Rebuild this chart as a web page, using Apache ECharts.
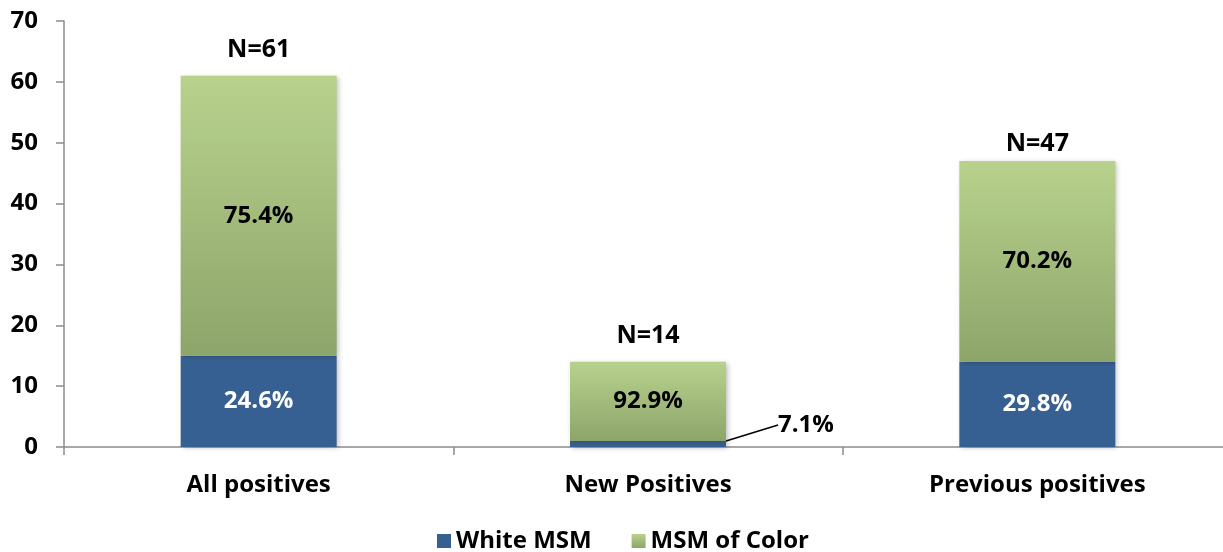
<!DOCTYPE html>
<html>
<head>
<meta charset="utf-8">
<script src="https://cdn.jsdelivr.net/npm/echarts@6/dist/echarts.min.js"></script>
<style>
html,body{margin:0;padding:0;background:#fff;}
#chart{width:1223px;height:552px;}
</style>
</head>
<body>
<div id="chart"></div>
<script>
const categories = ['All positives', 'New Positives', 'Previous positives'];
const whiteMSM = [15, 1, 14];
const msmOfColor = [46, 13, 33];
const yTicks = [0, 10, 20, 30, 40, 50, 60, 70];

const FONT = '"Open Sans"';
const totals = categories.map((c, i) => whiteMSM[i] + msmOfColor[i]);
const pct = (v, i) => (v / totals[i] * 100).toFixed(1) + '%';

const chart = echarts.init(document.getElementById('chart'));
const greenGrad = new echarts.graphic.LinearGradient(0, 0, 0, 1, [
  { offset: 0, color: '#B8D28D' },
  { offset: 1, color: '#8DA56A' }
]);
const shadow = { shadowBlur: 5, shadowColor: 'rgba(0,0,0,0.25)', shadowOffsetX: 2, shadowOffsetY: 1 };

chart.setOption({
  animation: false,
  backgroundColor: '#fff',
  grid: { left: 64, width: 1168, top: 21, bottom: 105, outerBoundsMode: 'none', containLabel: false },
  legend: {
    bottom: -6,
    left: 432,
    icon: 'rect',
    itemWidth: 14,
    itemHeight: 14,
    itemGap: 40,
    textStyle: { fontFamily: FONT, fontWeight: 'bold', fontSize: 24, color: '#000' },
    data: ['White MSM', 'MSM of Color']
  },
  xAxis: {
    type: 'category',
    data: categories,
    axisLine: { lineStyle: { color: '#8c8c8c', width: 1.5 } },
    axisTick: { show: true, length: 8, lineStyle: { color: '#8c8c8c', width: 1.5 } },
    axisLabel: { fontFamily: FONT, fontWeight: 'bold', fontSize: 24, color: '#000', margin: 26 }
  },
  yAxis: {
    type: 'value',
    min: 0,
    max: 70,
    interval: 10,
    splitLine: { show: false },
    axisLine: { show: true, lineStyle: { color: '#8c8c8c', width: 1.5 } },
    axisTick: { show: true, length: 8, lineStyle: { color: '#8c8c8c', width: 1.5 } },
    axisLabel: {
      fontFamily: FONT, fontWeight: 'bold', fontSize: 24, color: '#000', margin: 26,
      formatter: v => yTicks.includes(v) ? String(v) : ''
    }
  },
  series: [
    {
      name: 'White MSM',
      type: 'bar',
      stack: 'total',
      barWidth: 156,
      data: whiteMSM.map((v, i) => {
        if (i === 1) {
          return {
            value: v,
            label: { color: '#000', position: 'inside' },
            labelLine: { show: true, lineStyle: { color: '#000', width: 1.5 } }
          };
        }
        return v;
      }),
      itemStyle: Object.assign({ color: '#376092' }, shadow),
      label: {
        show: true,
        position: 'inside',
        color: '#fff',
        fontFamily: FONT, fontWeight: 'bold', fontSize: 24,
        formatter: p => pct(p.value, p.dataIndex)
      },
      labelLayout: function (params) {
        if (params.dataIndex === 1) {
          return {
            x: params.rect.x + params.rect.width + 80,
            y: params.rect.y - 16,
            align: 'center',
            verticalAlign: 'middle'
          };
        }
      }
    },
    {
      name: 'MSM of Color',
      type: 'bar',
      stack: 'total',
      barWidth: 156,
      data: msmOfColor,
      itemStyle: Object.assign({ color: greenGrad }, shadow),
      label: {
        show: true,
        position: 'inside',
        color: '#000',
        fontFamily: FONT, fontWeight: 'bold', fontSize: 24,
        formatter: p => pct(p.value, p.dataIndex)
      }
    },
    {
      name: 'N',
      type: 'bar',
      stack: 'total',
      barWidth: 156,
      data: totals.map((t, i) => i === 2 ? { value: 0, label: { distance: 5 } } : 0),
      itemStyle: { color: 'transparent' },
      label: {
        show: true,
        position: 'top',
        distance: 13,
        color: '#000',
        fontFamily: FONT, fontWeight: 'bold', fontSize: 25,
        formatter: p => 'N=' + totals[p.dataIndex]
      },
      tooltip: { show: false }
    }
  ]
});
</script>
</body>
</html>
